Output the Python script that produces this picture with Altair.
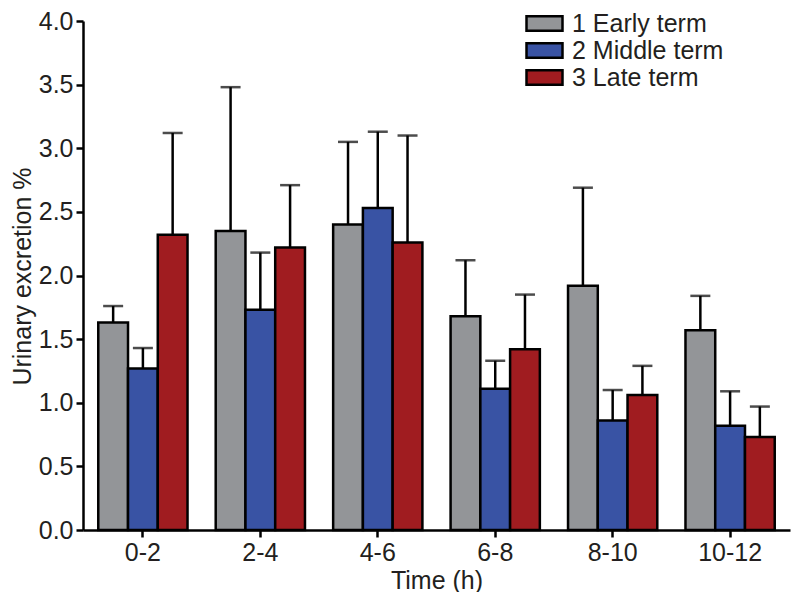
import altair as alt
import pandas as pd

times = ["0-2", "2-4", "4-6", "6-8", "8-10", "10-12"]
groups = ["1 Early term", "2 Middle term", "3 Late term"]
early = [1.63, 2.35, 2.40, 1.68, 1.92, 1.57]
early_upper = [1.76, 3.48, 3.05, 2.12, 2.69, 1.84]
middle = [1.27, 1.73, 2.53, 1.11, 0.86, 0.82]
middle_upper = [1.43, 2.18, 3.13, 1.33, 1.10, 1.09]
late = [2.32, 2.22, 2.26, 1.42, 1.06, 0.73]
late_upper = [3.12, 2.71, 3.10, 1.85, 1.29, 0.97]
colors = ["#939598", "#3953a4", "#a01c20"]

rows = []
for g, vals, ups in zip(groups, [early, middle, late], [early_upper, middle_upper, late_upper]):
    for t, v, u in zip(times, vals, ups):
        rows.append({"time": t, "group": g, "value": v, "upper": u})
df = pd.DataFrame(rows)

FONT = "Liberation Sans"

x = alt.X("time:N", sort=times, title="Time (h)",
          scale=alt.Scale(paddingInner=0.24, paddingOuter=0.13),
          axis=alt.Axis(labelAngle=0, titlePadding=3))
xoff = alt.XOffset("group:N", sort=groups, scale=alt.Scale(paddingInner=0, paddingOuter=0))

bars = alt.Chart(df).mark_bar(stroke="black", strokeWidth=2.5).encode(
    x=x,
    xOffset=xoff,
    y=alt.Y("value:Q", title="Urinary excretion %",
            scale=alt.Scale(domain=[0, 4.0], nice=False),
            axis=alt.Axis(values=[0, 0.5, 1, 1.5, 2, 2.5, 3, 3.5, 4.0], format=".1f",
                          titleX=-61, titleY=255, titleAngle=-90, titleBaseline="middle",
                          titleAlign="center")),
    color=alt.Color("group:N", sort=groups,
                    scale=alt.Scale(domain=groups, range=colors),
                    legend=alt.Legend(title=None, orient="none", legendX=449, legendY=-10,
                                      symbolType="M-2,-0.8L2,-0.8L2,0.8L-2,0.8Z",
                                      symbolSize=324, symbolStrokeColor="black",
                                      symbolStrokeWidth=2.5, symbolOpacity=1,
                                      labelFontSize=25, labelFont=FONT, labelColor="#231f20",
                                      rowPadding=1, labelOffset=15)),
)

rules = alt.Chart(df).mark_rule(color="black", strokeWidth=2.5).encode(
    x=x, xOffset=xoff, y="value:Q", y2="upper:Q"
)
caps = alt.Chart(df).mark_tick(color="black", thickness=2.5, size=20).encode(
    x=x, xOffset=xoff, y="upper:Q"
)

chart = alt.layer(bars, rules, caps).properties(
    width=707, height=509,
    autosize=alt.AutoSizeParams(type="none"),
    padding={"left": 75, "top": 13, "right": 2, "bottom": 62},
).configure_view(stroke=None).configure_axis(
    grid=False, domainColor="black", domainWidth=2.5, tickColor="black", tickWidth=2.5,
    tickSize=7, labelFont=FONT, labelFontSize=25, labelColor="#231f20", titleFont=FONT,
    titleFontSize=25, titleFontWeight="normal", titleColor="#231f20", labelPadding=3,
)

chart.save("out.html", embed_options={"renderer": "svg", "actions": False})
